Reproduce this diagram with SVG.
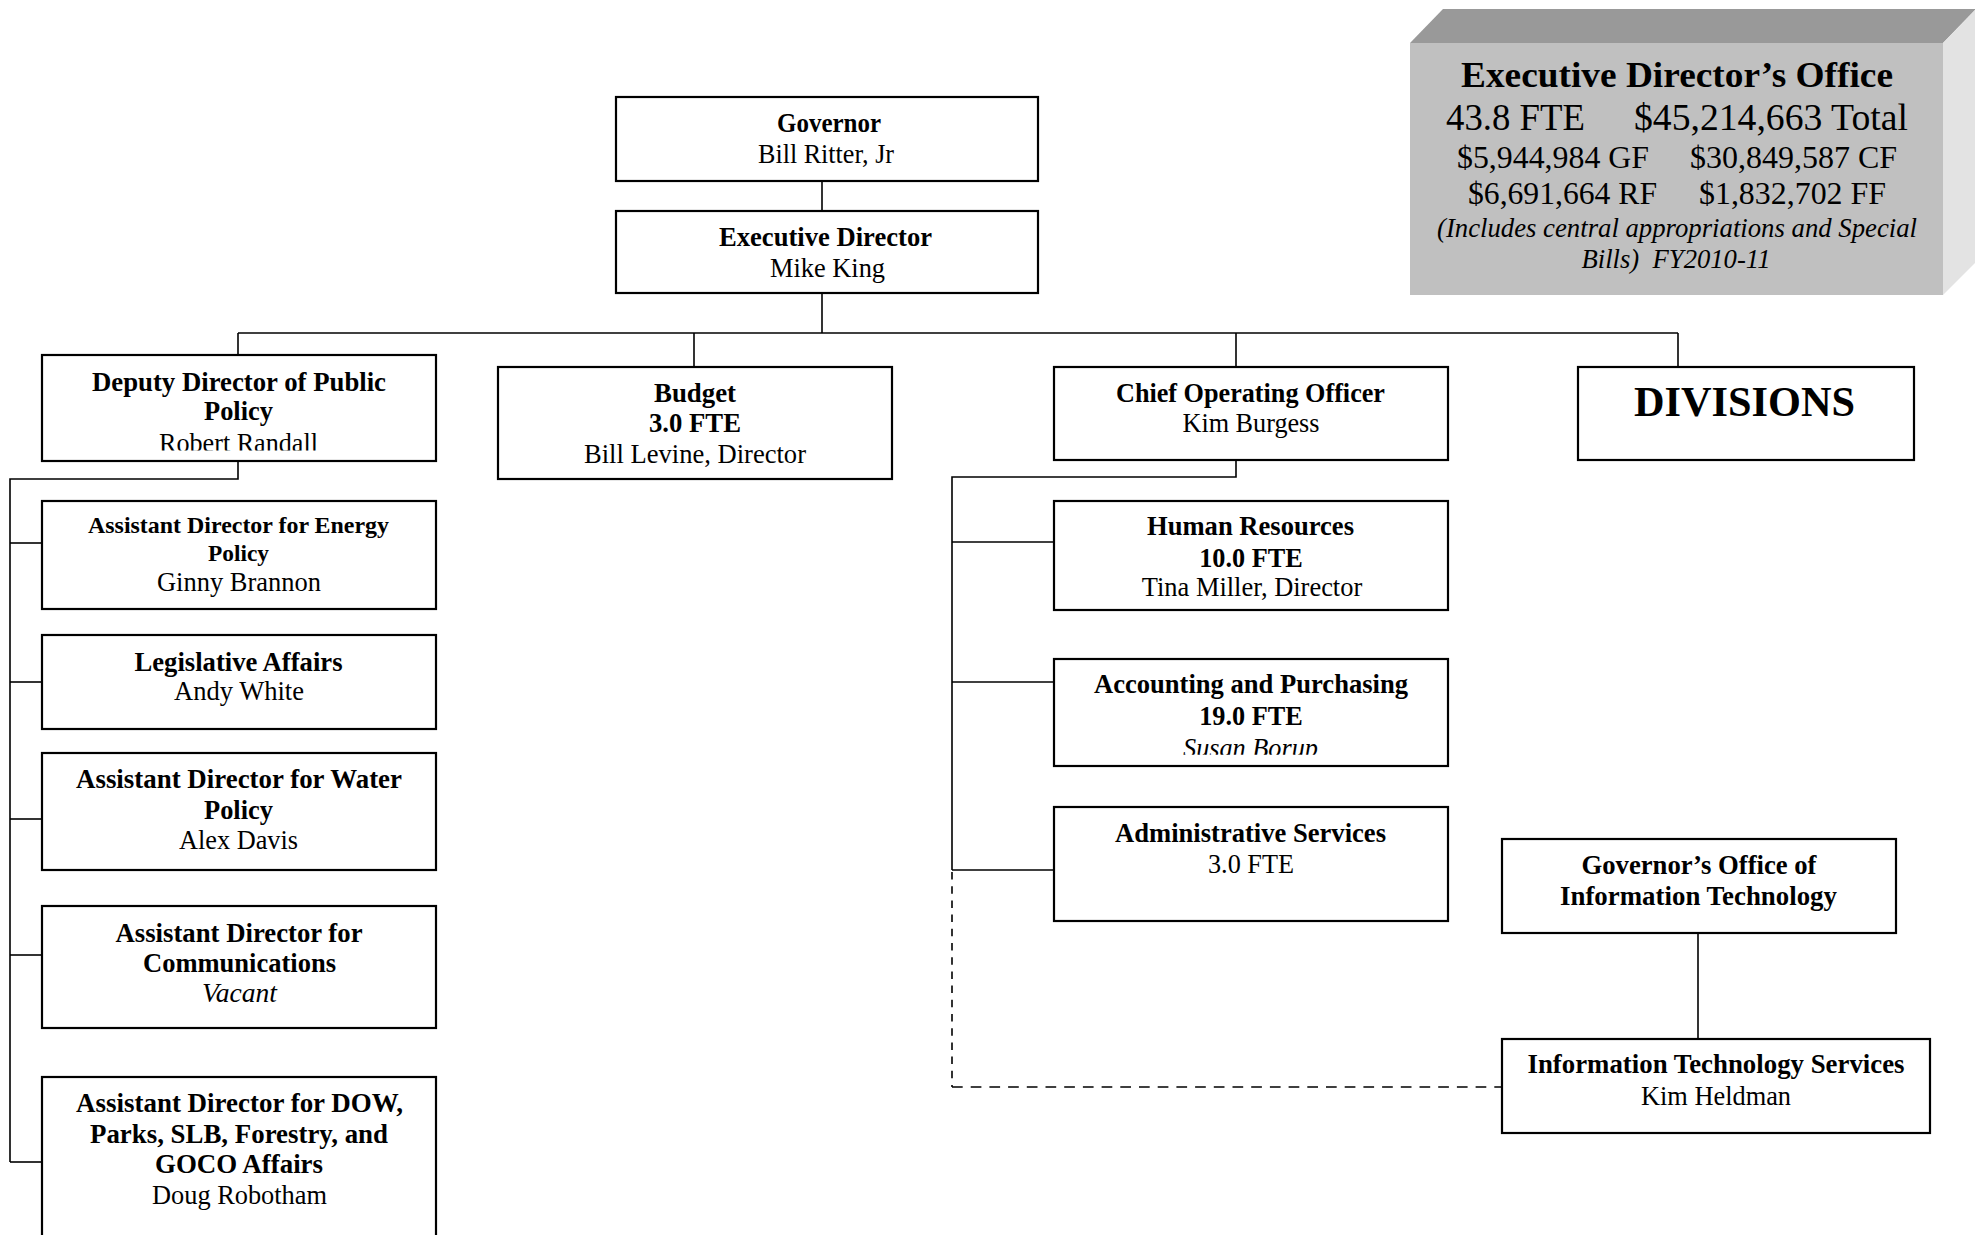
<svg xmlns="http://www.w3.org/2000/svg" width="1975" height="1235" viewBox="0 0 1975 1235">
  <style>
    text { font-family: "Liberation Serif", "Times New Roman", serif; fill: #000; text-anchor: middle; font-size: 26.5px; }
    .b { font-weight: bold; }
    .i { font-style: italic; }
    .s23 { font-size: 23px; }
    .s32 { font-size: 32px; }
    .s36 { font-size: 36px; }
    .s37 { font-size: 37px; }
    .s42 { font-size: 42px; }
    .box { fill: #fff; stroke: #000; stroke-width: 2.2; }
    .ln { fill: none; stroke: #000; stroke-width: 1.6; }
    .dash-v { fill: none; stroke: #000; stroke-width: 1.6; stroke-dasharray: 7.5 6.7; }
    .dash-h { fill: none; stroke: #000; stroke-width: 1.6; stroke-dasharray: 10.7 8; }
  </style>
  <defs>
    <clipPath id="clip-deputy"><rect x="42" y="355" width="394" height="95.5"/></clipPath>
    <clipPath id="clip-acct"><rect x="1054" y="659" width="394" height="95.7"/></clipPath>
  </defs>
  <rect width="1975" height="1235" fill="#fff"/>

  <!-- connectors -->
  <g id="connectors">
    <path class="ln" d="M822 181 V211"/>
    <path class="ln" d="M822 293 V333"/>
    <path class="ln" d="M238 333 H1678"/>
    <path class="ln" d="M238 333 V355"/>
    <path class="ln" d="M694 333 V367"/>
    <path class="ln" d="M1236 333 V367"/>
    <path class="ln" d="M1678 333 V367"/>
    <!-- public policy branch -->
    <path class="ln" d="M238 461 V479 H10 V1162"/>
    <path class="ln" d="M10 543 H42"/>
    <path class="ln" d="M10 682 H42"/>
    <path class="ln" d="M10 819 H42"/>
    <path class="ln" d="M10 955 H42"/>
    <path class="ln" d="M10 1162 H42"/>
    <!-- operations branch -->
    <path class="ln" d="M1236 460 V477 H952 V870"/>
    <path class="ln" d="M952 542 H1054"/>
    <path class="ln" d="M952 682 H1054"/>
    <path class="ln" d="M952 870 H1054"/>
    <path class="dash-v" d="M952 872 V1087"/>
    <path class="dash-h" d="M952 1087 H1502"/>
    <!-- IT branch -->
    <path class="ln" d="M1698 933 V1039"/>
  </g>

  <!-- summary block -->
  <g id="exec-office">
    <polygon points="1410,43 1443,9 1976,9 1943,43" fill="#999999"/>
    <polygon points="1943,43 1976,9 1976,262 1943,295" fill="#e3e3e3"/>
    <rect x="1410" y="43" width="533" height="252" fill="#c0c0c0"/>
    <text class="b s36" x="1677" y="87" textLength="432" lengthAdjust="spacingAndGlyphs">Executive Director’s Office</text>
    <text class="s37" x="1515.5" y="130" textLength="139" lengthAdjust="spacingAndGlyphs">43.8 FTE</text>
    <text class="s37" x="1771" y="130" textLength="274" lengthAdjust="spacingAndGlyphs">$45,214,663 Total</text>
    <text class="s32" x="1553" y="168" textLength="192" lengthAdjust="spacingAndGlyphs">$5,944,984 GF</text>
    <text class="s32" x="1793.5" y="168" textLength="207" lengthAdjust="spacingAndGlyphs">$30,849,587 CF</text>
    <text class="s32" x="1562.5" y="204" textLength="189" lengthAdjust="spacingAndGlyphs">$6,691,664 RF</text>
    <text class="s32" x="1792.5" y="204" textLength="187" lengthAdjust="spacingAndGlyphs">$1,832,702 FF</text>
    <text class="i" x="1677" y="237" textLength="480" lengthAdjust="spacingAndGlyphs">(Includes central appropriations and Special</text>
    <text class="i" x="1676" y="268" textLength="189" lengthAdjust="spacingAndGlyphs" xml:space="preserve">Bills)  FY2010-11</text>
  </g>

  <g id="governor">
    <rect class="box" x="616" y="97" width="422" height="84"/>
    <text class="b" x="829" y="132" textLength="104" lengthAdjust="spacingAndGlyphs">Governor</text>
    <text x="826" y="163" textLength="136" lengthAdjust="spacingAndGlyphs">Bill Ritter, Jr</text>
  </g>

  <g id="executive-director">
    <rect class="box" x="616" y="211" width="422" height="82"/>
    <text class="b" x="825.5" y="246" textLength="213" lengthAdjust="spacingAndGlyphs">Executive Director</text>
    <text x="827.5" y="277" textLength="115" lengthAdjust="spacingAndGlyphs">Mike King</text>
  </g>

  <g id="deputy-director">
    <rect class="box" x="42" y="355" width="394" height="106"/>
    <text class="b" x="239" y="391" textLength="294" lengthAdjust="spacingAndGlyphs">Deputy Director of Public</text>
    <text class="b" x="238.5" y="420" textLength="69" lengthAdjust="spacingAndGlyphs">Policy</text>
    <text x="238.5" y="452" textLength="159" lengthAdjust="spacingAndGlyphs" clip-path="url(#clip-deputy)">Robert Randall</text>
  </g>

  <g id="budget">
    <rect class="box" x="498" y="367" width="394" height="112"/>
    <text class="b" x="695" y="402" textLength="82" lengthAdjust="spacingAndGlyphs">Budget</text>
    <text class="b" x="695" y="432" textLength="92" lengthAdjust="spacingAndGlyphs">3.0 FTE</text>
    <text x="695" y="463" textLength="222" lengthAdjust="spacingAndGlyphs">Bill Levine, Director</text>
  </g>

  <g id="coo">
    <rect class="box" x="1054" y="367" width="394" height="93"/>
    <text class="b" x="1250.5" y="402" textLength="269" lengthAdjust="spacingAndGlyphs">Chief Operating Officer</text>
    <text x="1251" y="432" textLength="137" lengthAdjust="spacingAndGlyphs">Kim Burgess</text>
  </g>

  <g id="divisions">
    <rect class="box" x="1578" y="367" width="336" height="93"/>
    <text class="b s42" x="1744.5" y="416" textLength="221" lengthAdjust="spacingAndGlyphs">DIVISIONS</text>
  </g>

  <g id="energy-policy">
    <rect class="box" x="42" y="501" width="394" height="108"/>
    <text class="b s23" x="238.5" y="533" textLength="301" lengthAdjust="spacingAndGlyphs">Assistant Director for Energy</text>
    <text class="b s23" x="238.5" y="561" textLength="61" lengthAdjust="spacingAndGlyphs">Policy</text>
    <text x="239" y="591" textLength="164" lengthAdjust="spacingAndGlyphs">Ginny Brannon</text>
  </g>

  <g id="legislative-affairs">
    <rect class="box" x="42" y="635" width="394" height="94"/>
    <text class="b" x="238.5" y="671" textLength="208" lengthAdjust="spacingAndGlyphs">Legislative Affairs</text>
    <text x="239" y="700" textLength="130" lengthAdjust="spacingAndGlyphs">Andy White</text>
  </g>

  <g id="water-policy">
    <rect class="box" x="42" y="753" width="394" height="117"/>
    <text class="b" x="239" y="788" textLength="326" lengthAdjust="spacingAndGlyphs">Assistant Director for Water</text>
    <text class="b" x="238.5" y="819" textLength="69" lengthAdjust="spacingAndGlyphs">Policy</text>
    <text x="238.5" y="849" textLength="119" lengthAdjust="spacingAndGlyphs">Alex Davis</text>
  </g>

  <g id="communications">
    <rect class="box" x="42" y="906" width="394" height="122"/>
    <text class="b" x="239" y="941.5" textLength="247" lengthAdjust="spacingAndGlyphs">Assistant Director for</text>
    <text class="b" x="239.5" y="972" textLength="193" lengthAdjust="spacingAndGlyphs">Communications</text>
    <text class="i" x="239.5" y="1002" textLength="75" lengthAdjust="spacingAndGlyphs">Vacant</text>
  </g>

  <g id="dow-parks">
    <rect class="box" x="42" y="1077" width="394" height="170"/>
    <text class="b" x="239.5" y="1112" textLength="327" lengthAdjust="spacingAndGlyphs">Assistant Director for DOW,</text>
    <text class="b" x="239" y="1143" textLength="298" lengthAdjust="spacingAndGlyphs">Parks, SLB, Forestry, and</text>
    <text class="b" x="239" y="1173" textLength="168" lengthAdjust="spacingAndGlyphs">GOCO Affairs</text>
    <text x="239.5" y="1203.5" textLength="175" lengthAdjust="spacingAndGlyphs">Doug Robotham</text>
  </g>

  <g id="human-resources">
    <rect class="box" x="1054" y="501" width="394" height="109"/>
    <text class="b" x="1250.5" y="535" textLength="207" lengthAdjust="spacingAndGlyphs">Human Resources</text>
    <text class="b" x="1251" y="567" textLength="103.5" lengthAdjust="spacingAndGlyphs">10.0 FTE</text>
    <text x="1252" y="596" textLength="220.5" lengthAdjust="spacingAndGlyphs">Tina Miller, Director</text>
  </g>

  <g id="accounting">
    <rect class="box" x="1054" y="659" width="394" height="107"/>
    <text class="b" x="1251" y="693" textLength="314" lengthAdjust="spacingAndGlyphs">Accounting and Purchasing</text>
    <text class="b" x="1251" y="725" textLength="103.5" lengthAdjust="spacingAndGlyphs">19.0 FTE</text>
    <text class="i" x="1250.5" y="756.5" textLength="135" lengthAdjust="spacingAndGlyphs" clip-path="url(#clip-acct)">Susan Borup</text>
  </g>

  <g id="administrative-services">
    <rect class="box" x="1054" y="807" width="394" height="114"/>
    <text class="b" x="1250.5" y="842" textLength="271" lengthAdjust="spacingAndGlyphs">Administrative Services</text>
    <text x="1251" y="873" textLength="86" lengthAdjust="spacingAndGlyphs">3.0 FTE</text>
  </g>

  <g id="goit">
    <rect class="box" x="1502" y="839" width="394" height="94"/>
    <text class="b" x="1699" y="874" textLength="235" lengthAdjust="spacingAndGlyphs">Governor’s Office of</text>
    <text class="b" x="1698.5" y="905" textLength="277" lengthAdjust="spacingAndGlyphs">Information Technology</text>
  </g>

  <g id="it-services">
    <rect class="box" x="1502" y="1039" width="428" height="94"/>
    <text class="b" x="1716" y="1073" textLength="377" lengthAdjust="spacingAndGlyphs">Information Technology Services</text>
    <text x="1716" y="1105" textLength="150" lengthAdjust="spacingAndGlyphs">Kim Heldman</text>
  </g>
</svg>
